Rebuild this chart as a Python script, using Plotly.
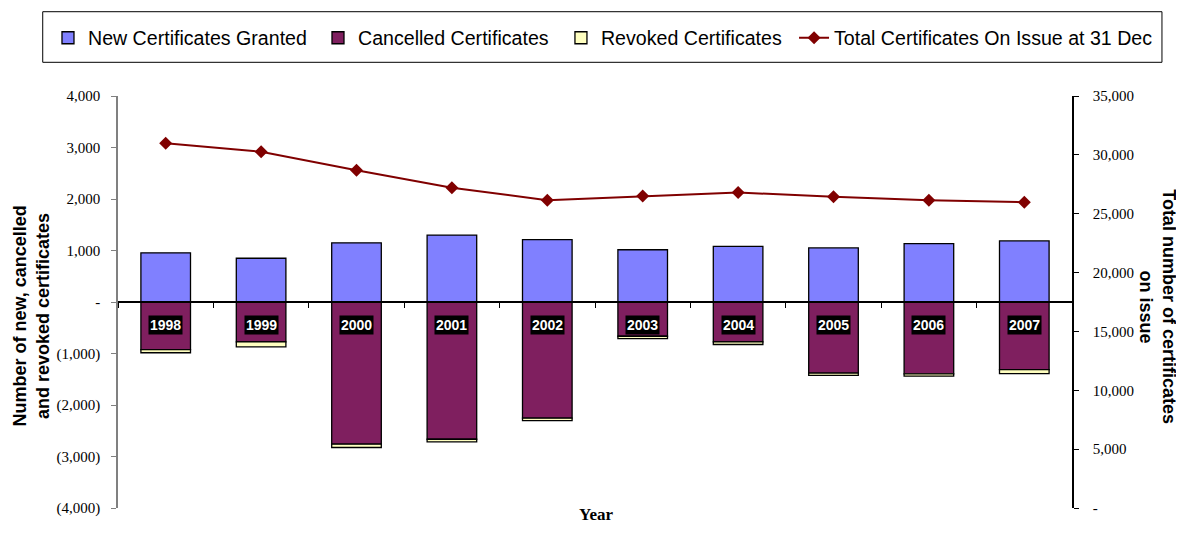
import plotly.graph_objects as go

years = ["1998", "1999", "2000", "2001", "2002", "2003", "2004", "2005", "2006", "2007"]
new_granted = [955, 850, 1150, 1300, 1210, 1015, 1080, 1050, 1135, 1185]
cancelled = [-925, -775, -2760, -2665, -2255, -665, -775, -1380, -1395, -1315]
revoked = [-60, -95, -65, -50, -50, -45, -50, -45, -45, -75]
total_on_issue = [30980, 30260, 28700, 27200, 26150, 26500, 26800, 26440, 26150, 25980]

left_ticks = [4000, 3000, 2000, 1000, 0, -1000, -2000, -3000, -4000]
left_ticktext = ["4,000", "3,000", "2,000", "1,000", "-", "(1,000)", "(2,000)", "(3,000)", "(4,000)"]
right_ticks = [35000, 30000, 25000, 20000, 15000, 10000, 5000, 0]
right_ticktext = ["35,000", "30,000", "25,000", "20,000", "15,000", "10,000", "5,000", "-"]

fig = go.Figure()
fig.add_trace(go.Bar(x=years, y=new_granted, name="New Certificates Granted", legend="legend",
                     marker=dict(color="#8080FF", line=dict(color="black", width=1.3))))
fig.add_trace(go.Bar(x=years, y=cancelled, name="Cancelled Certificates", legend="legend2",
                     marker=dict(color="#7F1F5F", line=dict(color="black", width=1.3))))
fig.add_trace(go.Bar(x=years, y=revoked, name="Revoked Certificates", legend="legend3",
                     marker=dict(color="#FFFFC0", line=dict(color="black", width=1.3))))
fig.add_trace(go.Scatter(x=years, y=total_on_issue, name="Total Certificates On Issue at 31 Dec",
                         legend="legend4", yaxis="y2", mode="lines+markers",
                         line=dict(color="#800000", width=2),
                         marker=dict(symbol="diamond", size=10, color="#800000")))

annotations = []
for i, yr in enumerate(years):
    annotations.append(dict(x=i, y=-450, xref="x", yref="y", text="<b>%s</b>" % yr,
                            showarrow=False, bgcolor="black", borderpad=1,
                            font=dict(family="Liberation Sans, Arial", size=14, color="white")))
annotations.append(dict(x=-0.091, y=0.465, xref="paper", yref="paper", textangle=-90,
                        xanchor="center", yanchor="middle",
                        text="<b>Number of new, cancelled<br>and revoked certificates</b>",
                        showarrow=False, font=dict(family="Liberation Sans, Arial", size=18, color="black")))
annotations.append(dict(x=1.102, y=0.489, xref="paper", yref="paper", textangle=90,
                        xanchor="center", yanchor="middle",
                        text="<b>Total number of certificates</b>",
                        showarrow=False, font=dict(family="Liberation Sans, Arial", size=18, color="black")))
annotations.append(dict(x=1.0776, y=0.489, xref="paper", yref="paper", textangle=90,
                        xanchor="center", yanchor="middle",
                        text="<b>on issue</b>",
                        showarrow=False, font=dict(family="Liberation Sans, Arial", size=18, color="black")))
annotations.append(dict(x=0.501, y=-0.0153, xref="paper", yref="paper", yanchor="middle",
                        text="<b>Year</b>", showarrow=False,
                        font=dict(family="Liberation Serif, Times New Roman", size=17, color="black")))

legend_font = dict(family="Liberation Sans, Arial", size=19.6, color="black")
def leg(x):
    return dict(orientation="h", x=x, y=0.9420, xref="container", yref="container",
                xanchor="left", yanchor="middle", borderwidth=0,
                bgcolor="rgba(0,0,0,0)", font=legend_font)

fig.update_layout(
    width=1176, height=517,
    margin=dict(l=110, r=112, t=88, b=17.3),
    paper_bgcolor="white", plot_bgcolor="white",
    barmode="relative", bargap=0.48,
    font=dict(family="Liberation Serif, Times New Roman", size=15, color="black"),
    showlegend=True,
    legend=leg(0.0340), legend2=leg(0.2636), legend3=leg(0.4702), legend4=leg(0.6684),
    shapes=[dict(type="rect", xref="paper", yref="paper", x0=-0.0789, x1=1.0943,
                 y0=1.0818, y1=1.2046, line=dict(color="black", width=1),
                 fillcolor="rgba(0,0,0,0)", layer="below")],
    xaxis=dict(type="category", range=[-0.5, 9.5], anchor="free", position=0.5, showline=True,
               linecolor="black", linewidth=1.5, ticks="outside", ticklen=5, tickcolor="black",
               tickson="boundaries", showticklabels=False, showgrid=False, zeroline=False,
               automargin=False),
    yaxis=dict(range=[-4000, 4000], tickvals=left_ticks, ticktext=left_ticktext,
               showline=True, linecolor="#808080", linewidth=1.5, ticks="outside", ticklen=5,
               tickcolor="#808080", showgrid=False, zeroline=False, ticklabelstandoff=8,
               automargin=False),
    yaxis2=dict(range=[0, 35000], tickvals=right_ticks, ticktext=right_ticktext,
                overlaying="y", side="right", showline=True, linecolor="black", linewidth=1.5,
                ticks="outside", ticklen=5, tickcolor="black", showgrid=False, zeroline=False,
                ticklabelstandoff=11, automargin=False),
    annotations=annotations,
)

fig.write_html("out.html")
